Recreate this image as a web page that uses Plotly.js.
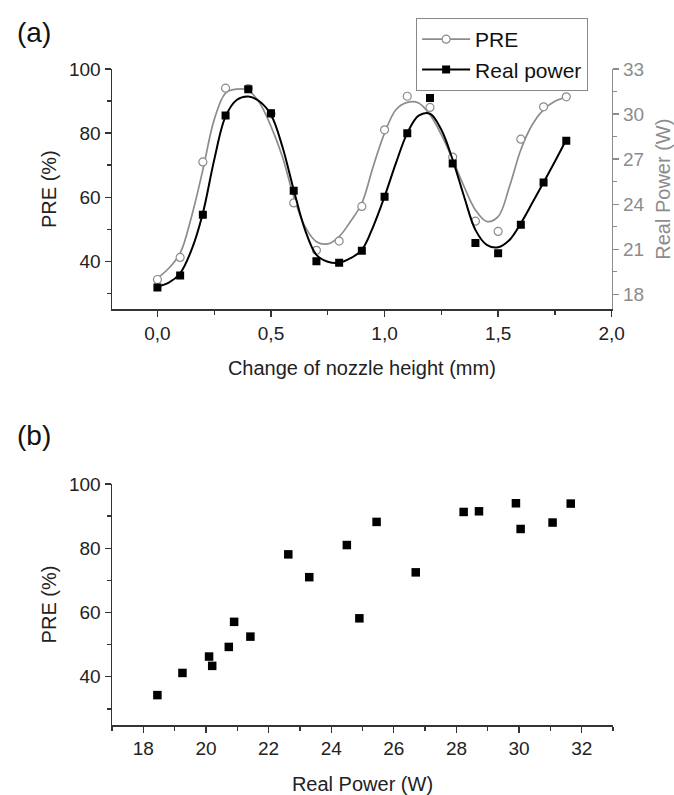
<!DOCTYPE html>
<html>
<head>
<meta charset="utf-8">
<script src="https://cdn.plot.ly/plotly-3.0.1.min.js"></script>
<style>
  html, body { margin: 0; padding: 0; background: #ffffff; }
  #chart { width: 674px; height: 795px; }
</style>
</head>
<body>
<div id="chart"></div>
<script>
const nozzleHeight = [0.0, 0.1, 0.2, 0.3, 0.4, 0.5, 0.6, 0.7, 0.8, 0.9, 1.0, 1.1, 1.2, 1.3, 1.4, 1.5, 1.6, 1.7, 1.8];
const preValues    = [34.3, 41.2, 71.0, 94.0, 93.9, 86.0, 58.2, 43.4, 46.3, 57.1, 81.0, 91.5, 88.0, 72.5, 52.5, 49.3, 78.1, 88.2, 91.3];
const realPower    = [18.45, 19.25, 23.3, 29.9, 31.65, 30.05, 24.9, 20.2, 20.1, 20.9, 24.5, 28.72, 31.07, 26.7, 21.42, 20.73, 22.63, 25.45, 28.23];

// ---- smoothed fit curves at 0.05 mm steps ----
const fitHeight = [0.00, 0.05, 0.10, 0.15, 0.20, 0.25, 0.30, 0.35, 0.40, 0.45, 0.50, 0.55, 0.60, 0.65, 0.70, 0.75, 0.80, 0.85, 0.90,
                   0.95, 1.00, 1.05, 1.10, 1.15, 1.20, 1.25, 1.30, 1.35, 1.40, 1.45, 1.50, 1.55, 1.60, 1.65, 1.70, 1.75, 1.80];
const preFit   = [34.7, 37.8, 42.5, 53.9, 68.5, 84.2, 92.5, 93.7, 93.3, 89.4, 82.1, 72.7, 60.2, 50.8, 46.1, 45.4, 47.7, 52.4, 58.1,
                  69.6, 80.0, 87.3, 89.6, 89.4, 85.7, 79.5, 71.7, 63.3, 56.0, 52.4, 53.9, 63.3, 74.8, 82.6, 87.3, 89.9, 91.25];
const powerFit = [18.51, 18.77, 19.4, 20.95, 23.4, 26.95, 29.84, 30.95, 31.17, 30.84, 29.95, 27.84, 24.95, 22.29, 20.62, 20.17, 20.1, 20.4, 20.95,
                  22.51, 24.51, 26.73, 28.73, 29.89, 30.02, 28.95, 26.95, 24.51, 22.29, 21.29, 21.13, 21.62, 22.73, 24.07, 25.44, 26.84, 28.29];

const seriesNames = ["PRE", "Real power"];
const panelLabels = ["(a)", "(b)"];
const axisTitles = {
  aX: "Change of nozzle height (mm)",
  aY: "PRE (%)",
  aY2: "Real Power (W)",
  bX: "Real Power (W)",
  bY: "PRE (%)"
};

// ---- styling ----
const FONT = "Liberation Sans, Arial, sans-serif";
const GRAY = "#8c8c8c";
const AXIS = "#333333";

// separate each point by a gap so the point traces draw markers only,
// while their legend entry still shows the line + symbol
function isolate(arr) {
  const out = [];
  arr.forEach((v, i) => { if (i) out.push(null); out.push(v); });
  return out;
}

const traces = [
  {
    x: fitHeight, y: preFit, name: seriesNames[0] + " fit", showlegend: false,
    xaxis: "x", yaxis: "y", mode: "lines", hoverinfo: "skip",
    line: { color: GRAY, width: 1.7, shape: "spline", smoothing: 1 }
  },
  {
    x: fitHeight, y: powerFit, name: seriesNames[1] + " fit", showlegend: false,
    xaxis: "x", yaxis: "y2", mode: "lines", hoverinfo: "skip",
    line: { color: "#000000", width: 2, shape: "spline", smoothing: 1 }
  },
  {
    x: isolate(nozzleHeight), y: isolate(preValues), name: seriesNames[0],
    xaxis: "x", yaxis: "y", connectgaps: false,
    mode: "lines+markers",
    line: { color: GRAY, width: 1.7 },
    marker: { symbol: "circle", size: 8, color: "#ffffff", line: { color: GRAY, width: 1.2 } }
  },
  {
    x: isolate(nozzleHeight), y: isolate(realPower), name: seriesNames[1],
    xaxis: "x", yaxis: "y2", connectgaps: false,
    mode: "lines+markers",
    line: { color: "#000000", width: 2 },
    marker: { symbol: "square", size: 8, color: "#000000" }
  },
  {
    x: realPower, y: preValues, name: "PRE vs Real Power",
    xaxis: "x2", yaxis: "y3",
    mode: "markers", showlegend: false,
    marker: { symbol: "square", size: 8.5, color: "#000000" }
  }
];

function baseAxis(extra) {
  return Object.assign({
    showline: true, linecolor: AXIS, linewidth: 1.5,
    ticks: "outside", ticklen: 6, tickwidth: 1.3, tickcolor: AXIS,
    showgrid: false, zeroline: false,
    tickfont: { family: FONT, size: 19, color: "#222222" },
    fixedrange: true
  }, extra);
}

const layout = {
  width: 674, height: 795,
  margin: { l: 112, r: 61, t: 69, b: 70 },
  paper_bgcolor: "#ffffff", plot_bgcolor: "#ffffff",
  separators: ",.",
  font: { family: FONT, size: 19, color: "#222222" },
  showlegend: true,
  legend: {
    x: 0.607, y: 1.0777, xanchor: "left", yanchor: "top",
    bgcolor: "#ffffff", bordercolor: "#888888", borderwidth: 1,
    font: { family: FONT, size: 21, color: "#111111" },
    itemwidth: 48, tracegroupgap: 0
  },
  xaxis: baseAxis({
    domain: [0, 0.9974], anchor: "y",
    range: [-0.2, 2.0], tick0: 0, dtick: 0.5, tickformat: ".1f",
    minor: { dtick: 0.25, ticks: "outside", ticklen: 4, tickcolor: AXIS },
    title: { text: axisTitles.aX, standoff: 18, font: { family: FONT, size: 20, color: "#222222" } }
  }),
  yaxis: baseAxis({
    domain: [0.6337, 1], anchor: "x",
    range: [25, 100], tick0: 0, dtick: 20,
    minor: { dtick: 10, ticks: "outside", ticklen: 4, tickcolor: AXIS },
    title: { text: axisTitles.aY, standoff: 7, font: { family: FONT, size: 20, color: "#222222" } }
  }),
  yaxis2: baseAxis({
    overlaying: "y", side: "right", anchor: "x",
    range: [17, 33], tick0: 0, dtick: 3,
    linecolor: GRAY, tickcolor: GRAY,
    tickfont: { family: FONT, size: 19, color: GRAY },
    minor: { dtick: 1.5, ticks: "outside", ticklen: 4, tickcolor: GRAY },
    title: { text: axisTitles.aY2, standoff: 13, font: { family: FONT, size: 20, color: GRAY } }
  }),
  xaxis2: baseAxis({
    domain: [0, 1], anchor: "y3",
    range: [17, 33], tick0: 0, dtick: 2,
    minor: { dtick: 1, ticks: "outside", ticklen: 4, tickcolor: AXIS },
    title: { text: axisTitles.bX, standoff: 18, font: { family: FONT, size: 20, color: "#222222" } }
  }),
  yaxis3: baseAxis({
    domain: [0, 0.3674], anchor: "x2",
    range: [25, 100], tick0: 0, dtick: 20,
    minor: { dtick: 10, ticks: "outside", ticklen: 4, tickcolor: AXIS },
    title: { text: axisTitles.bY, standoff: 7, font: { family: FONT, size: 20, color: "#222222" } }
  }),
  annotations: [
    { text: panelLabels[0], xref: "paper", yref: "paper", x: -0.1557, y: 1.0549,
      xanchor: "center", yanchor: "middle", showarrow: false,
      font: { family: FONT, size: 28, color: "#111111" } },
    { text: panelLabels[1], xref: "paper", yref: "paper", x: -0.1557, y: 0.442,
      xanchor: "center", yanchor: "middle", showarrow: false,
      font: { family: FONT, size: 28, color: "#111111" } }
  ]
};

Plotly.newPlot("chart", traces, layout, { staticPlot: true, displayModeBar: false });
</script>
</body>
</html>
